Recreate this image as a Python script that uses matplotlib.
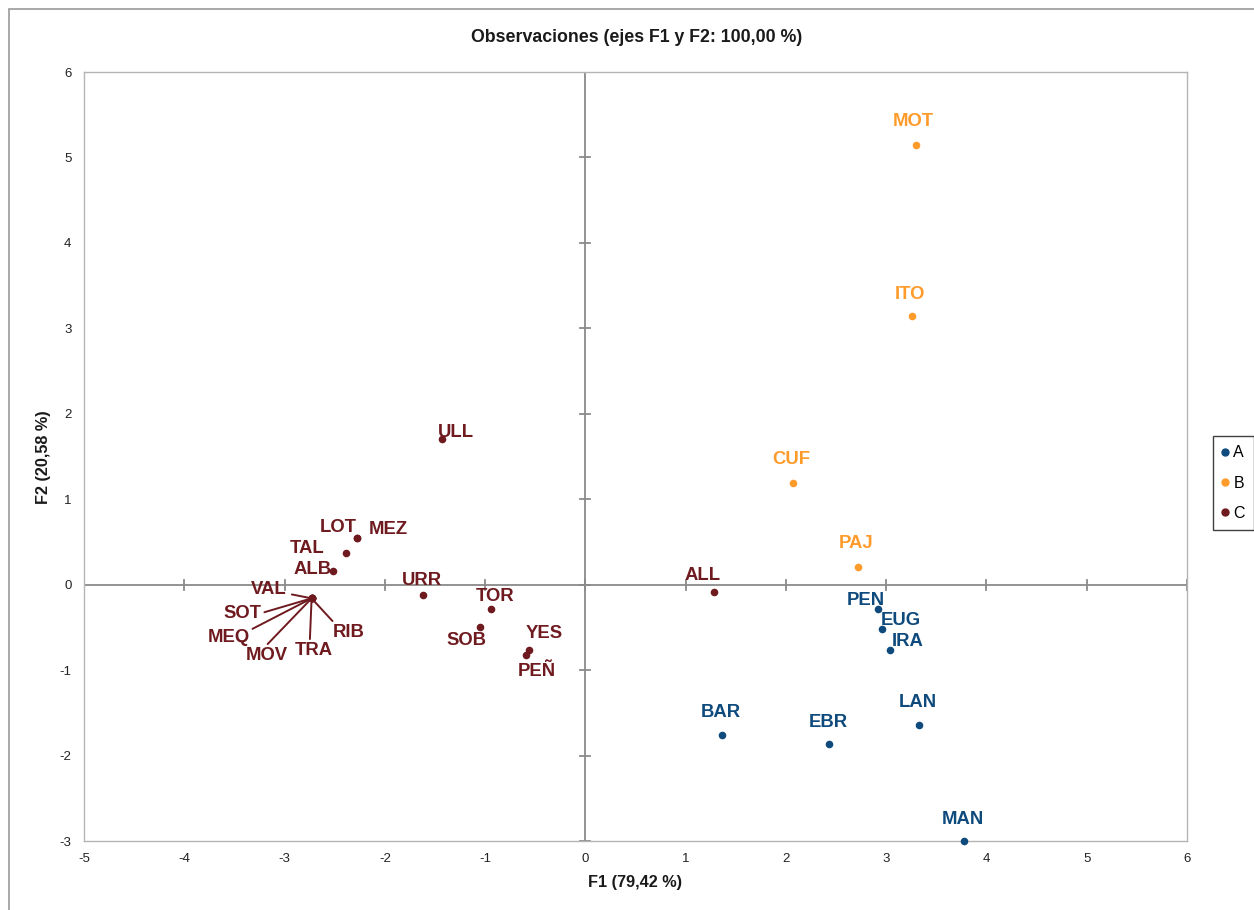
import matplotlib
matplotlib.use("Agg")
import matplotlib.pyplot as plt
from matplotlib.patches import Rectangle

plt.rcParams["axes.unicode_minus"] = False

# Observation scores on the first two factors
labels = ["MOT", "ITO", "CUF", "PAJ",
          "PEN", "EUG", "IRA", "LAN", "BAR", "EBR", "MAN",
          "ALL", "ULL", "LOT", "MEZ", "TAL", "ALB", "URR", "TOR", "SOB", "YES", "PEÑ",
          "VAL", "SOT", "MEQ", "MOV", "TRA", "RIB"]
f1 = [3.30, 3.26, 2.07, 2.72,
      2.92, 2.96, 3.04, 3.33, 1.36, 2.43, 3.78,
      1.28, -1.43, -2.28, -2.28, -2.39, -2.52, -1.62, -0.94, -1.05, -0.56, -0.59,
      -2.73, -2.73, -2.73, -2.73, -2.73, -2.73]
f2 = [5.14, 3.14, 1.19, 0.21,
      -0.29, -0.52, -0.77, -1.64, -1.76, -1.87, -3.00,
      -0.08, 1.70, 0.55, 0.55, 0.37, 0.16, -0.12, -0.29, -0.50, -0.76, -0.82,
      -0.16, -0.16, -0.16, -0.16, -0.16, -0.16]
groups = ["B", "B", "B", "B",
          "A", "A", "A", "A", "A", "A", "A",
          "C", "C", "C", "C", "C", "C", "C", "C", "C", "C", "C",
          "C", "C", "C", "C", "C", "C"]
group_names = ["A", "B", "C"]

title = "Observaciones (ejes F1 y F2: 100,00 %)"
xlabel = "F1 (79,42 %)"
ylabel = "F2 (20,58 %)"

colors = {"A": "#0f4a7d", "B": "#ff9b2b", "C": "#6e1a1f"}

# label placement (pixel offsets from the point) and leader-line anchors
label_offsets = {
    "MOT": (-3, 24), "ITO": (-2, 22), "CUF": (-2, 23), "PAJ": (-2, 23),
    "PEN": (-12, 9), "EUG": (19, 9), "IRA": (17, 9), "LAN": (-1, 22),
    "BAR": (-1, 23), "EBR": (-1, 22), "MAN": (-2, 22),
    "ALL": (-11, 16), "ULL": (14, 7), "LOT": (-18, 10), "MEZ": (32, 8),
    "TAL": (-39, 5), "ALB": (-20, 1), "URR": (-1, 14), "TOR": (4, 13),
    "SOB": (-14, -13), "YES": (15, 16), "PEÑ": (11, -17),
    "VAL": (-43, 9), "SOT": (-69, -15), "MEQ": (-83, -39),
    "MOV": (-45, -57), "TRA": (2, -52), "RIB": (37, -34),
}
leader_relpos = {
    "VAL": (1.15, 0.2), "SOT": (1.05, 0.55), "MEQ": (0.95, 0.85),
    "MOV": (0.48, 1.05), "TRA": (0.4, 1.05), "RIB": (0.05, 1.05),
}

W, H, DPI = 1254, 910, 100
fig = plt.figure(figsize=(W / DPI, H / DPI), dpi=DPI)
fig.patch.set_facecolor("white")

# outer chart border
fig.add_artist(Rectangle((9 / W, -0.1), 1.2, 1.1 - 9 / H, transform=fig.transFigure,
                         fill=False, edgecolor="#9a9a9a", lw=1.2))

ax = fig.add_axes([84 / W, 1 - 841 / H, (1187 - 84) / W, (841 - 72) / H])
ax.set_xlim(-5, 6)
ax.set_ylim(-3, 6)
for s in ax.spines.values():
    s.set_color("#b4b4b4")
    s.set_linewidth(1.0)

ax.set_xticks(range(-5, 7))
ax.set_yticks(range(-3, 7))
ax.tick_params(length=0, labelsize=9.5, colors="#222222", pad=9)
for t in ax.get_xticklabels() + ax.get_yticklabels():
    t.set_fontfamily("Liberation Sans")

# zero axes with small cross ticks
ax.axhline(0, color="#8a8a8a", lw=1.3, zorder=1)
ax.axvline(0, color="#8a8a8a", lw=1.3, zorder=1)
for xv in range(-5, 7):
    ax.plot([xv, xv], [-0.06, 0.06], color="#8a8a8a", lw=1.3, zorder=1)
for yv in range(-3, 7):
    ax.plot([-0.05, 0.05], [yv, yv], color="#8a8a8a", lw=1.3, zorder=1)

pt = 72 / DPI
for lab, x, y, g in zip(labels, f1, f2, groups):
    c = colors[g]
    ax.scatter([x], [y], s=30, color=c, zorder=3, linewidths=0, clip_on=False)
    dx, dy = label_offsets[lab]
    kw = {}
    if lab in leader_relpos:
        kw["arrowprops"] = dict(arrowstyle="-", color=c, lw=1.4, shrinkA=0, shrinkB=0,
                                relpos=leader_relpos[lab])
    ax.annotate(lab, (x, y), xytext=(dx * pt, dy * pt), textcoords="offset points",
                ha="center", va="center", color=c, fontsize=13.3, fontweight="bold",
                fontfamily="Liberation Sans", zorder=4, **kw)

fig.text(637 / W, 1 - 37 / H, title, ha="center", va="center", fontsize=12.8,
         fontweight="bold", fontfamily="Liberation Sans", color="#1a1a1a")
fig.text(635 / W, 1 - 882 / H, xlabel, ha="center", va="center", fontsize=11.7,
         fontweight="bold", fontfamily="Liberation Sans", color="#1a1a1a")
fig.text(43 / W, 1 - 457 / H, ylabel, ha="center", va="center", rotation=90,
         fontsize=11.7, fontweight="bold", fontfamily="Liberation Sans", color="#1a1a1a")

# legend
handles = [plt.Line2D([], [], marker="o", ls="", color=colors[g], markersize=5) for g in group_names]
leg = fig.legend(handles, group_names, loc="center", bbox_to_anchor=(1233.5 / W, 1 - 483 / H),
                 frameon=True, fancybox=False, handlelength=0.4, handletextpad=0.3,
                 labelspacing=0.95, borderpad=0.6, borderaxespad=0,
                 prop={"family": "Liberation Sans", "size": 11.5})
leg.get_frame().set_edgecolor("#111111")
leg.get_frame().set_linewidth(1.0)

fig.savefig("out.png", dpi=DPI, facecolor="white")
